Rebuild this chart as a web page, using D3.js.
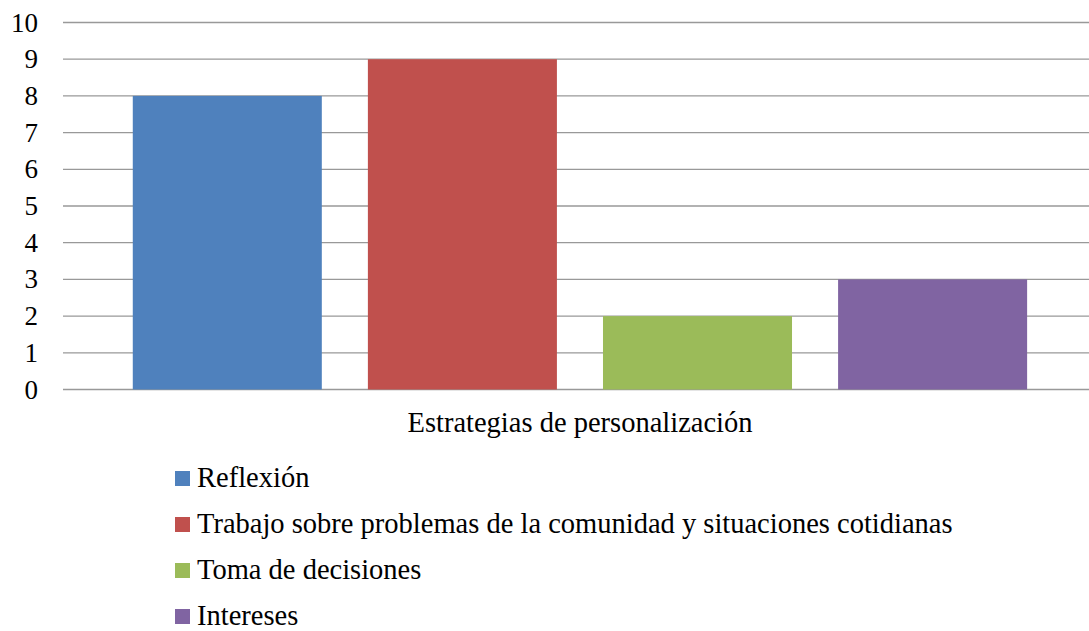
<!DOCTYPE html>
<html>
<head>
<meta charset="utf-8">
<script src="https://cdn.jsdelivr.net/npm/d3@7"></script>
<style>
  body { margin: 0; background: #fff; }
  text { font-family: "Liberation Serif", serif; fill: #000; }
</style>
</head>
<body>
<div id="chart"></div>
<script>
var series = ["Reflexión", "Trabajo sobre problemas de la comunidad y situaciones cotidianas", "Toma de decisiones", "Intereses"]
var values = [8, 9, 2, 3]
var colors = ["#4f81bd", "#c0504d", "#9bbb59", "#8064a2"]
var yTicks = [0, 1, 2, 3, 4, 5, 6, 7, 8, 9, 10]
var axisTitle = "Estrategias de personalización"

var width = 1089, height = 631
var fs = 28.5
var svg = d3.select("#chart").append("svg")
            .attr("width", width)
            .attr("height", height)

var y = d3.scaleLinear().domain([0, 10]).range([389.5, 22.5])
var x = d3.scaleBand().domain(series).range([63, 1089])
          .paddingInner(0.196).paddingOuter(0.28).align(0.53)

// gridlines
svg.selectAll(".grid").data(yTicks).enter().append("line")
   .attr("x1", 63).attr("x2", width)
   .attr("y1", d => y(d)).attr("y2", d => y(d))
   .attr("stroke", "#999").attr("stroke-width", 1.3)

// bars
svg.selectAll(".bar").data(values).enter().append("rect")
   .attr("x", (d, i) => x(series[i]))
   .attr("y", d => y(d))
   .attr("width", x.bandwidth())
   .attr("height", d => y(0) - y(d))
   .attr("fill", (d, i) => colors[i])

// y labels
svg.selectAll(".ylab").data(yTicks).enter().append("text")
   .attr("x", 38).attr("y", d => y(d) + 9)
   .attr("text-anchor", "end")
   .attr("font-size", 27)
   .text(d => d)

svg.append("text")
   .attr("x", 580).attr("y", 432)
   .attr("text-anchor", "middle")
   .attr("font-size", fs)
   .text(axisTitle)

// legend
var legend = svg.selectAll(".leg").data(series).enter().append("g")
   .attr("transform", (d, i) => "translate(175," + (487 + i * 46) + ")")
legend.append("rect")
   .attr("x", 0).attr("y", -16).attr("width", 15).attr("height", 15)
   .attr("fill", (d, i) => colors[i])
legend.append("text")
   .attr("x", 22).attr("y", 0)
   .attr("font-size", fs)
   .text(d => d)
</script>
</body>
</html>
